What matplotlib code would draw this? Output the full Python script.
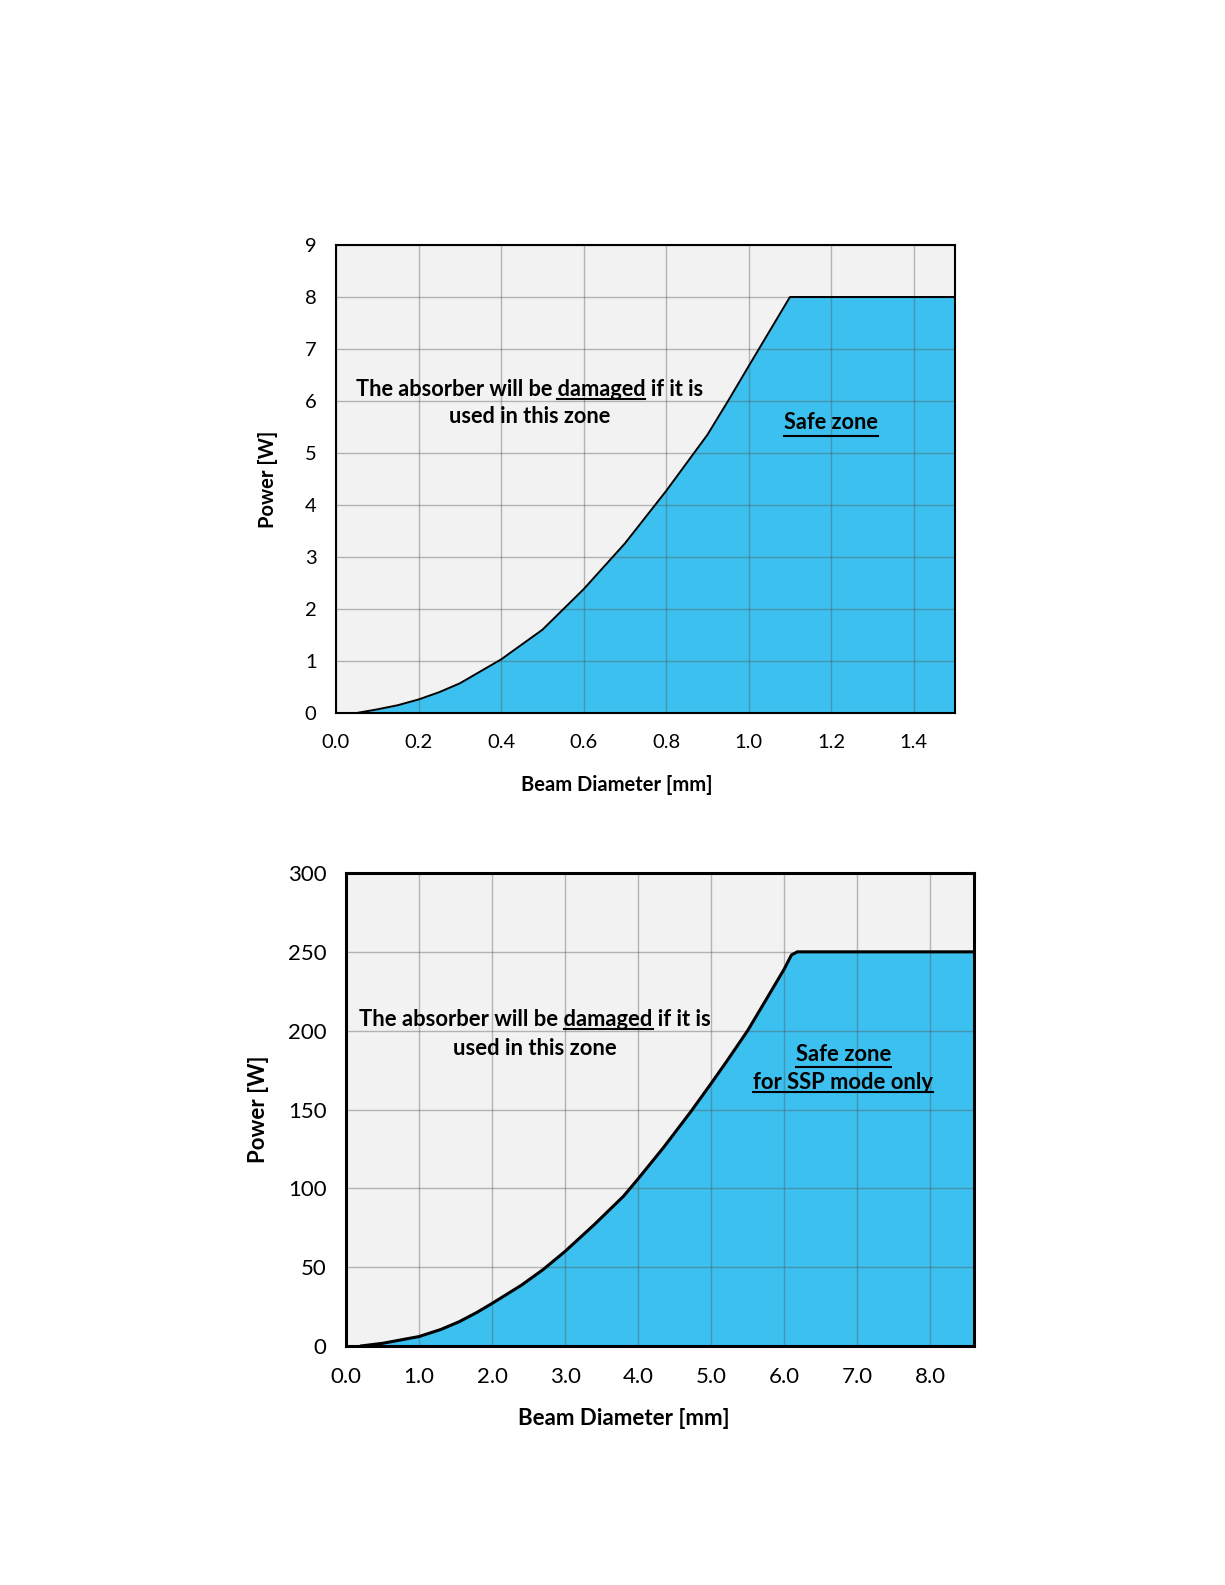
import matplotlib
matplotlib.use("Agg")
import matplotlib.pyplot as plt
from matplotlib.lines import Line2D
from matplotlib.font_manager import FontProperties

plt.rcParams['font.family'] = ['Lato', 'DejaVu Sans']

# ---- data: top chart ----
top_diam = [0.05, 0.10, 0.15, 0.20, 0.25, 0.30, 0.40, 0.50, 0.60, 0.70, 0.80, 0.90, 0.95, 1.00, 1.10, 1.50]
top_power = [0.0, 0.07, 0.15, 0.26, 0.40, 0.57, 1.03, 1.60, 2.38, 3.26, 4.27, 5.35, 6.0, 6.67, 8.0, 8.0]
top_xticks = [0.0, 0.2, 0.4, 0.6, 0.8, 1.0, 1.2, 1.4]
top_yticks = [0, 1, 2, 3, 4, 5, 6, 7, 8, 9]

# ---- data: bottom chart ----
bot_diam = [0.2, 0.5, 1.0, 1.3, 1.55, 1.8, 2.0, 2.4, 2.7, 3.0, 3.4, 3.8, 4.0, 4.35,
            4.72, 5.0, 5.22, 5.5, 5.77, 6.0, 6.1, 6.18, 8.6]
bot_power = [0, 1.7, 6, 10.5, 15.4, 21.5, 27, 38.5, 48.5, 60, 77, 95, 106, 126,
             148.5, 166.5, 181, 200, 221, 239, 248, 250, 250]
bot_xticks = [0.0, 1.0, 2.0, 3.0, 4.0, 5.0, 6.0, 7.0, 8.0]
bot_yticks = [0, 50, 100, 150, 200, 250, 300]

FILL = '#3BC0EF'
BG = '#F2F2F2'

W, H = 1225, 1585
fig = plt.figure(figsize=(W / 100, H / 100), dpi=100)
fig.patch.set_facecolor('white')

ax1 = fig.add_axes([336 / W, 1 - 713 / H, (955 - 336) / W, (713 - 245) / H])
ax2 = fig.add_axes([346 / W, 1 - 1346 / H, (974 - 346) / W, (1346 - 873) / H])


def style(ax, xt, yt, xlim, ylim, tfs, lfs, spw, lw, xd, yd, xlab_pos, ylab_pos):
    ax.set_facecolor(BG)
    ax.fill_between(xd, yd, 0, color=FILL, zorder=1, lw=0)
    ax.plot(xd, yd, color='black', lw=lw, zorder=4, solid_capstyle='round',
            solid_joinstyle='round')
    ax.set_xlim(*xlim)
    ax.set_ylim(*ylim)
    ax.set_xticks(xt)
    ax.set_yticks(yt)
    ax.set_xticklabels(['{:.1f}'.format(v) for v in xt], fontsize=tfs)
    ax.set_yticklabels([str(v) for v in yt], fontsize=tfs)
    ax.tick_params(axis='x', length=0, pad=15)
    ax.tick_params(axis='y', length=0, pad=14)
    ax.grid(True, color='#555555', alpha=0.4, lw=1, zorder=2)
    ax.set_axisbelow(False)
    for s in ax.spines.values():
        s.set_linewidth(spw)
        s.set_color('black')
        s.set_zorder(5)
    ax.set_xlabel('Beam Diameter [mm]', fontsize=lfs, fontweight='bold')
    ax.set_ylabel('Power [W]', fontsize=lfs, fontweight='bold')
    ax.xaxis.set_label_coords(*xlab_pos)
    ax.xaxis.label.set_va('center')
    ax.yaxis.set_label_coords(*ylab_pos)
    ax.yaxis.label.set_va('center')


style(ax1, top_xticks, top_yticks, (0, 1.5), (0, 9), 14.5, 14.5, 1.5, 1.4,
      top_diam, top_power, (0.454, -0.154), (-0.110, 0.50))
style(ax2, bot_xticks, bot_yticks, (0, 8.6), (0, 300), 16, 16, 2.2, 2.2,
      bot_diam, bot_power, (0.443, -0.154), (-0.140, 0.50))

# annotations: (ax, x, y, text, underlined part, fontsize)
notes = [
    (ax1, 0.468, 6.22, 'The absorber will be damaged if it is', 'damaged', 15.7),
    (ax1, 0.468, 5.70, 'used in this zone', None, 15.7),
    (ax1, 1.20, 5.58, 'Safe zone', 'Safe zone', 15.7),
    (ax2, 2.59, 207, 'The absorber will be damaged if it is', 'damaged', 15.8),
    (ax2, 2.59, 188.5, 'used in this zone', None, 15.8),
    (ax2, 6.81, 185, 'Safe zone', 'Safe zone', 15.8),
    (ax2, 6.81, 167, 'for SSP mode only', 'for SSP mode only', 15.8),
]
arts = []
for ax, x, y, t, u, fs in notes:
    a = ax.text(x, y, t, ha='center', va='center', fontsize=fs, fontweight='bold', zorder=6)
    arts.append((a, t, u, fs))

fig.canvas.draw()
r = fig.canvas.get_renderer()


def measure(s, fs):
    prop = FontProperties(family=['Lato', 'DejaVu Sans'], weight='bold', size=fs)
    w, h, d = r.get_text_width_height_descent(s, prop, ismath=False)
    return w, d


for a, t, u, fs in arts:
    if not u:
        continue
    bb = a.get_window_extent(r)
    idx = t.index(u)
    pre = t[:idx + len(u)]
    wpre, _ = measure(pre, fs)
    wu, _ = measure(u, fs)
    _, dfull = measure(t, fs)
    x0 = bb.x0 + wpre - wu
    x1 = bb.x0 + wpre
    base = bb.y0 + dfull
    yline = base - 0.12 * fs * 100 / 72
    fig.add_artist(Line2D([x0 / W, x1 / W], [yline / H, yline / H],
                          transform=fig.transFigure, color='black', lw=1.5, zorder=7))

fig.savefig('out.png', dpi=100, facecolor='white')
